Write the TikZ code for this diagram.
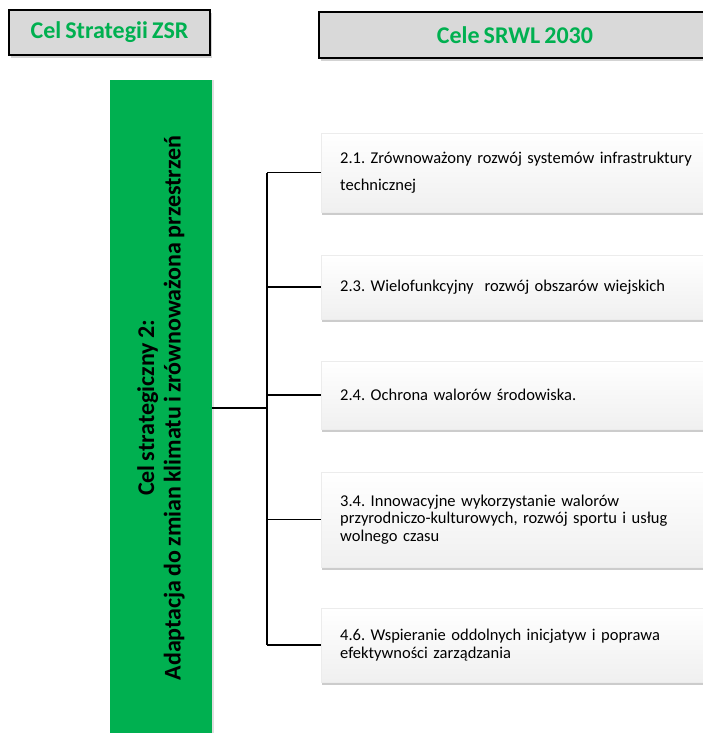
\documentclass[tikz,border=0pt]{standalone}
\usepackage{fontspec}
\setmainfont{Carlito}[WordSpace=0.75]
\usetikzlibrary{shadows, positioning}
\definecolor{zsrgreen}{RGB}{0, 176, 80}
\definecolor{headgray}{RGB}{217, 217, 217}
\frenchspacing
\begin{document}
\begin{tikzpicture}[x=1pt, y=-1pt,
    header/.style={draw=black, line width=1.6pt, fill=headgray, text=zsrgreen,
        font=\bfseries\fontsize{24}{28}\selectfont, inner sep=0pt,
        drop shadow={shadow xshift=2pt, shadow yshift=-3pt, opacity=0.35}},
    greenbar/.style={fill=zsrgreen, minimum width=102pt, minimum height=670pt, inner sep=0pt,
        drop shadow={shadow xshift=2pt, shadow yshift=0pt, opacity=0.25}},
    goal/.style={draw=gray!15, top color=white, bottom color=gray!12, text width=362pt,
        inner xsep=19pt, align=left, font=\fontsize{16.5}{17.5}\selectfont,
        drop shadow={shadow xshift=1pt, shadow yshift=-3pt, opacity=0.4}},
    link/.style={line width=1.2pt, black}]
                    \useasboundingbox (0,0) rectangle (703,733);
                    \node[header, minimum width=201pt, minimum height=45pt] (zsr) at (109.5,32.5) {Cel Strategii ZSR};
                    \node[header, minimum width=392pt, minimum height=46pt] (srwl) at (515,35) {Cele SRWL 2030};
                    \node[greenbar] (bar) at (161,415) {};
                    \node[rotate=90, align=center, font=\bfseries\fontsize{24}{26.5}\selectfont] (bartext) at (161,408)
                        {Cel strategiczny 2:\\Adaptacja do zmian klimatu i zrównoważona przestrzeń};
                    \node[goal, anchor=west, minimum height=79pt] (g1) at (321,172.5)
                        {2.1. Zrównoważony rozwój systemów infrastruktury\\[9pt]technicznej};
                    \node[goal, anchor=west, minimum height=64pt] (g2) at (321,287)
                        {2.3. Wielofunkcyjny~ rozwój obszarów wiejskich};
                    \node[goal, anchor=west, minimum height=68pt] (g3) at (321,395)
                        {2.4. Ochrona walorów środowiska.};
                    \node[goal, anchor=west, minimum height=95pt] (g4) at (321,519.5)
                        {3.4. Innowacyjne wykorzystanie walorów\\przyrodniczo-kulturowych, rozwój sportu i usług\\wolnego czasu};
                    \node[goal, anchor=west, minimum height=74pt] (g5) at (321,645)
                        {4.6. Wspieranie oddolnych inicjatyw i poprawa\\efektywności zarządzania};
                    \coordinate (fork) at (267,408);
                    \draw[link] (fork -| bar.east) -- (fork);
                    \draw[link] (fork |- g1.west) -- (fork |- g5.west);
                    \foreach \g in {g1,g2,g3,g4,g5}
                        \draw[link] (fork |- \g.west) -- (\g.west);
                \end{tikzpicture}
\end{document}
